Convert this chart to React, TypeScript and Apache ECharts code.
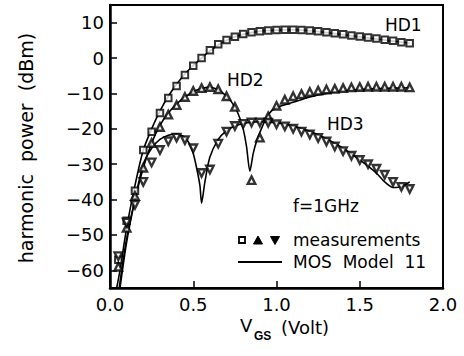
import React, { useEffect, useRef } from "react";
import * as echarts from "echarts";

// Gate voltage (V) of each measured point
const vMeas = [
  0.05, 0.1, 0.15, 0.2, 0.25, 0.3, 0.35, 0.4, 0.45, 0.5, 0.55, 0.6,
  0.65, 0.7, 0.75, 0.8, 0.85, 0.9, 0.95, 1.0, 1.05, 1.1, 1.15, 1.2,
  1.25, 1.3, 1.35, 1.4, 1.45, 1.5, 1.55, 1.6, 1.65, 1.7, 1.75, 1.8,
];

// Measured harmonic power (dBm); null where no point was taken
const hd1Meas = [
  -57, -46, -37.5, -26, -20.8, -15.5, -11.3, -7.9, -4.8, -2.2, 0, 2.2,
  3.9, 5.1, 6.0, 6.8, 7.3, 7.6, 7.8, 7.9, 8.0, 8.0, 7.9, 7.8,
  7.6, 7.3, 7.0, 6.7, 6.4, 6.1, 5.8, 5.5, 5.2, 4.9, 4.5, 4.2,
];
const hd2Meas = [
  -59, -48, -39, -31, -24, -19.5, -16, -13.3, -11, -9.3, -8.5, -8.2,
  -8.8, -10.8, -13.8, null, -34.5, -22.5, -16.5, -13.5, -11.8, -10.8, -10.2, -9.6,
  -9.2, -8.9, -8.7, -8.5, -8.3, -8.2, -8.1, -8.1, -8.1, -8.1, -8.1, -8.3,
];
const hd3Meas = [
  -56, -46.5, -41.5, -35, -29.5, -26, -23.5, -22.5, -23.2, -25.5, -32.5, -31.5,
  -24.2, -20.8, -19.2, -18.6, -18.2, -18.2, -18.3, -18.7, -19.3, -20, -20.8, -21.6,
  -22.6, -23.6, -25, -26.3, -27.6, -28.8, -30, -31.3, -33, -35, -36.4, -37,
];

// MOS Model 11 simulation
const vHd1Model = [
  0.04, 0.06, 0.1, 0.15, 0.2, 0.25, 0.3, 0.35, 0.4, 0.45, 0.5, 0.55, 0.6, 0.65,
  0.7, 0.75, 0.8, 0.85, 0.9, 0.95, 1.0, 1.1, 1.2, 1.3, 1.4, 1.5, 1.6, 1.7, 1.8,
];
const hd1Model = [
  -65, -60, -48, -36, -26, -20, -15, -10.8, -7.4, -4.5, -2.1, 0, 2, 3.7,
  5, 6, 6.7, 7.2, 7.6, 7.8, 7.9, 8, 7.7, 7.2, 6.6, 6, 5.4, 4.8, 4.2,
];
const vHd2Model = [
  0.055, 0.1, 0.15, 0.2, 0.25, 0.3, 0.35, 0.4, 0.45, 0.5, 0.55, 0.6, 0.65, 0.7,
  0.75, 0.78, 0.8, 0.82, 0.84, 0.86, 0.88, 0.9, 0.95, 1.0, 1.1, 1.2, 1.3, 1.4,
  1.5, 1.6, 1.7, 1.8,
];
const hd2Model = [
  -65, -51, -40, -31, -24, -19, -15.5, -13, -11, -9.5, -8.6, -8.3, -9, -10.8,
  -13.8, -17, -20, -25, -32, -27, -23.5, -21, -16, -14, -12.5, -11, -10, -9.3,
  -8.9, -8.6, -8.5, -8.4,
];
const vHd3Model = [
  0.06, 0.1, 0.15, 0.2, 0.25, 0.3, 0.35, 0.4, 0.45, 0.48, 0.5, 0.52, 0.54, 0.55,
  0.57, 0.6, 0.65, 0.7, 0.75, 0.8, 0.85, 0.9, 0.95, 1.0, 1.1, 1.2, 1.3, 1.4,
  1.5, 1.6, 1.65, 1.7, 1.75, 1.8,
];
const hd3Model = [
  -65, -52, -40, -30, -25.5, -23, -21.8, -21.5, -22.5, -24.5, -27, -31, -36, -41,
  -35, -28, -23, -20.5, -19.2, -18.5, -18.1, -18, -18.1, -18.3, -19.2, -20.7, -22.8, -25.5,
  -28.8, -32.5, -35, -36.6, -36.4, -35,
];

const xTicks = [0, 0.5, 1.0, 1.5, 2.0];
const yTicks = [-60, -50, -40, -30, -20, -10, 0, 10];

const FONT = "DejaVu Sans";
const INK = "#000";

const pairs = (xs: number[], ys: (number | null)[]) =>
  xs.map((x, i) => [x, ys[i]]).filter((p) => p[1] !== null);

export default function App() {
  const ref = useRef<HTMLDivElement>(null);

  useEffect(() => {
    if (!ref.current) return;
    const chart = echarts.init(ref.current, null, { renderer: "svg" });

    const lineSeries = (data: any[]) => ({
      type: "line",
      data,
      symbol: "none",
      smooth: 0.25,
      lineStyle: { color: INK, width: 1.6 },
      z: 2,
    });
    const markSeries = (
      data: any[],
      symbol: string,
      rotate: number,
      size: number,
      border: number
    ) => ({
      type: "scatter",
      data,
      symbol,
      symbolRotate: rotate,
      symbolSize: size,
      itemStyle: { color: "#fff", borderColor: INK, borderWidth: border },
      z: 3,
    });

    const txt = (text: string, x: number, y: number, size = 18, extra: any = {}) => ({
      type: "text",
      x,
      y,
      style: {
        text,
        fill: INK,
        font: `${size}px "${FONT}"`,
        textVerticalAlign: "middle",
        ...extra,
      },
    });

    chart.setOption({
      animation: false,
      backgroundColor: "#fff",
      grid: {
        left: 110,
        right: 21,
        top: 5,
        bottom: 68,
        show: true,
        borderColor: INK,
        borderWidth: 2,
      },
      xAxis: {
        type: "value",
        min: xTicks[0],
        max: xTicks[xTicks.length - 1],
        interval: 0.5,
        axisLine: { onZero: false, lineStyle: { color: INK, width: 2.5 } },
        axisTick: { inside: true, length: 7, lineStyle: { color: INK, width: 1.5 } },
        axisLabel: {
          color: INK,
          fontFamily: FONT,
          fontSize: 18,
          margin: 7,
          formatter: (v: number) => v.toFixed(1),
        },
        splitLine: { show: false },
      },
      yAxis: {
        type: "value",
        min: -65,
        max: 15,
        axisLine: { onZero: false, lineStyle: { color: INK, width: 2.5 } },
        axisTick: {
          inside: true,
          length: 7,
          customValues: yTicks,
          lineStyle: { color: INK, width: 1.5 },
        },
        axisLabel: {
          color: INK,
          fontFamily: FONT,
          fontSize: 18,
          margin: 6,
          customValues: yTicks,
          formatter: (v: number) => (v < 0 ? "\u2212" + Math.abs(v) : String(v)),
        },
        splitLine: { show: false },
      },
      series: [
        lineSeries(pairs(vHd1Model, hd1Model)),
        lineSeries(pairs(vHd2Model, hd2Model)),
        lineSeries(pairs(vHd3Model, hd3Model)),
        markSeries(pairs(vMeas, hd1Meas), "rect", 0, 6.5, 2),
        markSeries(pairs(vMeas, hd2Meas), "triangle", 0, 7.5, 2.4),
        markSeries(pairs(vMeas, hd3Meas), "triangle", 180, 7.5, 2.4),
      ],
      graphic: [
        txt("HD1", 385, 25, 17),
        txt("HD2", 227, 80, 17),
        txt("HD3", 327, 124, 17),
        txt("f=1GHz", 293, 206, 17),
        // legend
        {
          type: "rect",
          shape: { x: 239, y: 237, width: 6, height: 6 },
          style: { fill: "#fff", stroke: INK, lineWidth: 1.8 },
        },
        {
          type: "polygon",
          shape: { points: [[258, 236], [262.5, 244], [253.5, 244]] },
          style: { fill: INK, stroke: INK, lineWidth: 1 },
        },
        {
          type: "polygon",
          shape: { points: [[270.5, 236.5], [279.5, 236.5], [275, 244.5]] },
          style: { fill: INK, stroke: INK, lineWidth: 1 },
        },
        txt("measurements", 293, 240, 17),
        {
          type: "line",
          shape: { x1: 238, y1: 262, x2: 282, y2: 262 },
          style: { stroke: INK, lineWidth: 1.8 },
        },
        txt("MOS  Model  11", 293, 262, 17),
        // axis titles
        txt("V", 240, 325, 18),
        txt("GS", 254, 336, 10, { fontWeight: "bold" }),
        txt("(Volt)", 281, 327, 18),
        {
          type: "text",
          x: 26,
          y: 148,
          rotation: Math.PI / 2,
          style: {
            text: "harmonic  power  (dBm)",
            fill: INK,
            font: `19px "${FONT}"`,
            textAlign: "center",
            textVerticalAlign: "middle",
          },
        },
      ],
    });

    return () => chart.dispose();
  }, []);

  return (
    <div
      ref={ref}
      style={{ position: "fixed", left: 0, top: 0, width: 464, height: 356 }}
    />
  );
}
